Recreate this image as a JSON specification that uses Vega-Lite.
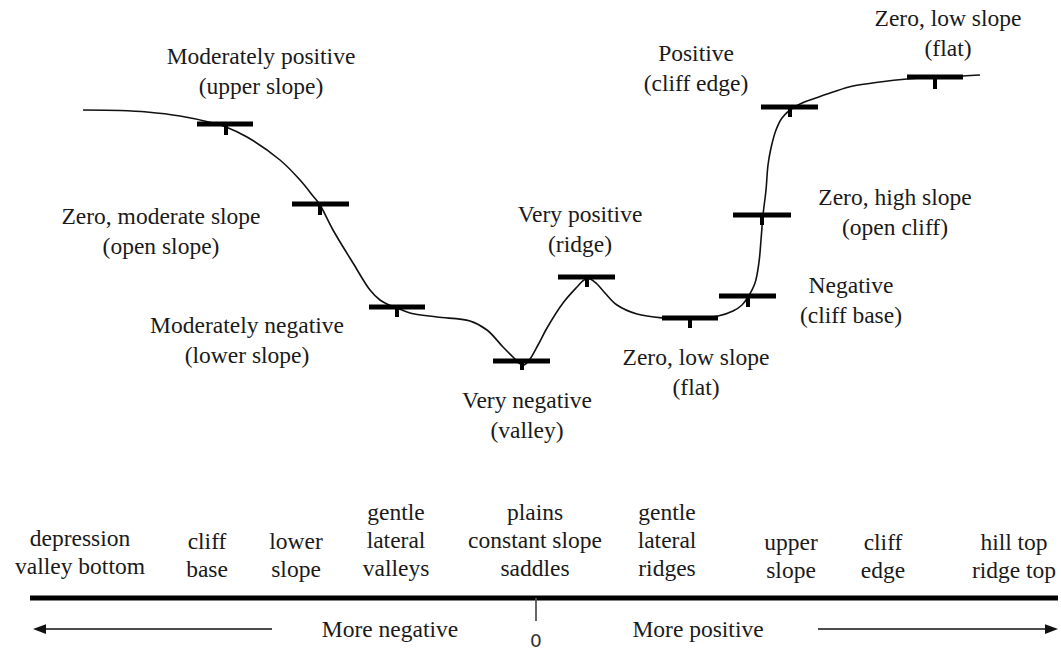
{
  "$schema": "https://vega.github.io/schema/vega-lite/v6.json",
  "width": 1061,
  "height": 653,
  "padding": 0,
  "autosize": {"type": "none"},
  "background": "white",
  "config": {"view": {"stroke": null}},
  "datasets": {
    "curve": [
      {"i": 1, "x": 83, "y": 110}, {"i": 2, "x": 120, "y": 110.5}, {"i": 3, "x": 147, "y": 112}, {"i": 4, "x": 180, "y": 116},
      {"i": 5, "x": 213, "y": 123}, {"i": 6, "x": 226, "y": 127}, {"i": 7, "x": 247, "y": 137}, {"i": 8, "x": 280, "y": 160},
      {"i": 9, "x": 300, "y": 180}, {"i": 10, "x": 313, "y": 196}, {"i": 11, "x": 320, "y": 205}, {"i": 12, "x": 333, "y": 230},
      {"i": 13, "x": 353, "y": 263}, {"i": 14, "x": 370, "y": 290}, {"i": 15, "x": 380, "y": 300}, {"i": 16, "x": 387, "y": 304},
      {"i": 17, "x": 397, "y": 308}, {"i": 18, "x": 410, "y": 313}, {"i": 19, "x": 437, "y": 317}, {"i": 20, "x": 470, "y": 321},
      {"i": 21, "x": 487, "y": 330}, {"i": 22, "x": 503, "y": 347}, {"i": 23, "x": 513, "y": 357}, {"i": 24, "x": 519, "y": 363},
      {"i": 25, "x": 524, "y": 365}, {"i": 26, "x": 530, "y": 359}, {"i": 27, "x": 538, "y": 345}, {"i": 28, "x": 547, "y": 328},
      {"i": 29, "x": 563, "y": 303}, {"i": 30, "x": 577, "y": 287}, {"i": 31, "x": 584, "y": 280}, {"i": 32, "x": 590, "y": 279},
      {"i": 33, "x": 597, "y": 284}, {"i": 34, "x": 605, "y": 293}, {"i": 35, "x": 617, "y": 305}, {"i": 36, "x": 637, "y": 314},
      {"i": 37, "x": 663, "y": 318}, {"i": 38, "x": 690, "y": 319}, {"i": 39, "x": 718, "y": 316}, {"i": 40, "x": 733, "y": 311},
      {"i": 41, "x": 742, "y": 305}, {"i": 42, "x": 748, "y": 297}, {"i": 43, "x": 755, "y": 283}, {"i": 44, "x": 759, "y": 262},
      {"i": 45, "x": 761, "y": 240}, {"i": 46, "x": 763, "y": 215}, {"i": 47, "x": 766, "y": 190}, {"i": 48, "x": 768, "y": 165},
      {"i": 49, "x": 771, "y": 148}, {"i": 50, "x": 776, "y": 130}, {"i": 51, "x": 782, "y": 118}, {"i": 52, "x": 790, "y": 110},
      {"i": 53, "x": 800, "y": 104}, {"i": 54, "x": 813, "y": 99}, {"i": 55, "x": 833, "y": 92}, {"i": 56, "x": 853, "y": 86},
      {"i": 57, "x": 880, "y": 82}, {"i": 58, "x": 907, "y": 79}, {"i": 59, "x": 935, "y": 77}, {"i": 60, "x": 963, "y": 76},
      {"i": 61, "x": 980, "y": 75}
    ],
    "markers": [
      {"name": "upper slope", "x1": 197, "x2": 253, "y": 124, "tx": 226, "tb": 135},
      {"name": "open slope", "x1": 292, "x2": 349, "y": 204, "tx": 320, "tb": 215},
      {"name": "lower slope", "x1": 369, "x2": 425, "y": 307, "tx": 397, "tb": 317},
      {"name": "valley", "x1": 493, "x2": 550, "y": 361, "tx": 522, "tb": 370},
      {"name": "ridge", "x1": 558, "x2": 615, "y": 277, "tx": 587, "tb": 287},
      {"name": "flat", "x1": 662, "x2": 718, "y": 318, "tx": 690, "tb": 328},
      {"name": "cliff base", "x1": 719, "x2": 776, "y": 296, "tx": 748, "tb": 307},
      {"name": "open cliff", "x1": 733, "x2": 791, "y": 215, "tx": 762, "tb": 225},
      {"name": "cliff edge", "x1": 761, "x2": 818, "y": 107, "tx": 790, "tb": 117},
      {"name": "flat top", "x1": 907, "x2": 963, "y": 77, "tx": 935, "tb": 89}
    ],
    "labels": [
      {"x": 261, "y": 64, "text": "Moderately positive\n(upper slope)"},
      {"x": 161, "y": 224, "text": "Zero, moderate slope\n(open slope)"},
      {"x": 247, "y": 333, "text": "Moderately negative\n(lower slope)"},
      {"x": 527, "y": 408, "text": "Very negative\n(valley)"},
      {"x": 580, "y": 222, "text": "Very positive\n(ridge)"},
      {"x": 696, "y": 365, "text": "Zero, low slope\n(flat)"},
      {"x": 851, "y": 293, "text": "Negative\n(cliff base)"},
      {"x": 895, "y": 205, "text": "Zero, high slope\n(open cliff)"},
      {"x": 696, "y": 61, "text": "Positive\n(cliff edge)"},
      {"x": 948, "y": 26, "text": "Zero, low slope\n(flat)"}
    ],
    "classes": [
      {"x": 80, "y": 546, "text": "depression\nvalley bottom"},
      {"x": 207, "y": 549, "text": "cliff\nbase"},
      {"x": 296, "y": 549, "text": "lower\nslope"},
      {"x": 396, "y": 520, "text": "gentle\nlateral\nvalleys"},
      {"x": 535, "y": 520, "text": "plains\nconstant slope\nsaddles"},
      {"x": 667, "y": 520, "text": "gentle\nlateral\nridges"},
      {"x": 791, "y": 550, "text": "upper\nslope"},
      {"x": 883, "y": 550, "text": "cliff\nedge"},
      {"x": 1014, "y": 550, "text": "hill top\nridge top"}
    ],
    "baseline": [{"x1": 30, "x2": 1058, "y": 598}],
    "zero": [{"x": 536, "y1": 598, "y2": 621, "text": "0", "ty": 647}],
    "arrows": [
      {"side": "left", "x1": 40, "x2": 272, "y": 629, "tip": 33},
      {"side": "right", "x1": 818, "x2": 1052, "y": 629, "tip": 1058}
    ],
    "directions": [
      {"x": 390, "y": 637, "text": "More negative"},
      {"x": 698, "y": 637, "text": "More positive"}
    ]
  },
  "layer": [
    {
      "data": {"name": "curve"},
      "mark": {"type": "line", "interpolate": "catmull-rom", "color": "#111111", "strokeWidth": 1.6},
      "encoding": {
        "x": {"field": "x", "type": "quantitative", "scale": {"domain": [0, 1061], "nice": false, "zero": false}, "axis": null},
        "y": {"field": "y", "type": "quantitative", "scale": {"domain": [0, 653], "reverse": true, "nice": false, "zero": false}, "axis": null},
        "order": {"field": "i", "type": "quantitative"}
      }
    },
    {
      "data": {"name": "markers"},
      "mark": {"type": "rule", "color": "#000000", "strokeWidth": 5},
      "encoding": {
        "x": {"field": "x1", "type": "quantitative"},
        "x2": {"field": "x2"},
        "y": {"field": "y", "type": "quantitative"}
      }
    },
    {
      "data": {"name": "markers"},
      "mark": {"type": "rule", "color": "#000000", "strokeWidth": 4},
      "encoding": {
        "x": {"field": "tx", "type": "quantitative"},
        "y": {"field": "y", "type": "quantitative"},
        "y2": {"field": "tb"}
      }
    },
    {
      "data": {"name": "labels"},
      "mark": {"type": "text", "font": "Liberation Serif", "fontSize": 23.5, "align": "center", "baseline": "alphabetic", "lineBreak": "\n", "lineHeight": 30, "color": "#1a1a1a"},
      "encoding": {
        "x": {"field": "x", "type": "quantitative"},
        "y": {"field": "y", "type": "quantitative"},
        "text": {"field": "text"}
      }
    },
    {
      "data": {"name": "classes"},
      "mark": {"type": "text", "font": "Liberation Serif", "fontSize": 23.5, "align": "center", "baseline": "alphabetic", "lineBreak": "\n", "lineHeight": 28, "color": "#1a1a1a"},
      "encoding": {
        "x": {"field": "x", "type": "quantitative"},
        "y": {"field": "y", "type": "quantitative"},
        "text": {"field": "text"}
      }
    },
    {
      "data": {"name": "baseline"},
      "mark": {"type": "rule", "color": "#000000", "strokeWidth": 5},
      "encoding": {
        "x": {"field": "x1", "type": "quantitative"},
        "x2": {"field": "x2"},
        "y": {"field": "y", "type": "quantitative"}
      }
    },
    {
      "data": {"name": "zero"},
      "mark": {"type": "rule", "color": "#555555", "strokeWidth": 1.8},
      "encoding": {
        "x": {"field": "x", "type": "quantitative"},
        "y": {"field": "y1", "type": "quantitative"},
        "y2": {"field": "y2"}
      }
    },
    {
      "data": {"name": "zero"},
      "mark": {"type": "text", "font": "DejaVu Sans", "fontSize": 18.5, "align": "center", "baseline": "alphabetic", "color": "#333333"},
      "encoding": {
        "x": {"field": "x", "type": "quantitative"},
        "y": {"field": "ty", "type": "quantitative"},
        "text": {"field": "text"}
      }
    },
    {
      "data": {"name": "arrows"},
      "mark": {"type": "rule", "color": "#111111", "strokeWidth": 1.6},
      "encoding": {
        "x": {"field": "x1", "type": "quantitative"},
        "x2": {"field": "x2"},
        "y": {"field": "y", "type": "quantitative"}
      }
    },
    {
      "data": {"name": "arrows"},
      "transform": [{"filter": "datum.side == 'left'"}],
      "mark": {"type": "point", "shape": "M 0 0 L 2 -0.75 L 2 0.75 Z", "size": 169, "filled": true, "color": "#111111", "opacity": 1},
      "encoding": {
        "x": {"field": "tip", "type": "quantitative"},
        "y": {"field": "y", "type": "quantitative"}
      }
    },
    {
      "data": {"name": "arrows"},
      "transform": [{"filter": "datum.side == 'right'"}],
      "mark": {"type": "point", "shape": "M 0 0 L -2 -0.75 L -2 0.75 Z", "size": 169, "filled": true, "color": "#111111", "opacity": 1},
      "encoding": {
        "x": {"field": "tip", "type": "quantitative"},
        "y": {"field": "y", "type": "quantitative"}
      }
    },
    {
      "data": {"name": "directions"},
      "mark": {"type": "text", "font": "Liberation Serif", "fontSize": 23.5, "align": "center", "baseline": "alphabetic", "color": "#1a1a1a"},
      "encoding": {
        "x": {"field": "x", "type": "quantitative"},
        "y": {"field": "y", "type": "quantitative"},
        "text": {"field": "text"}
      }
    }
  ]
}
